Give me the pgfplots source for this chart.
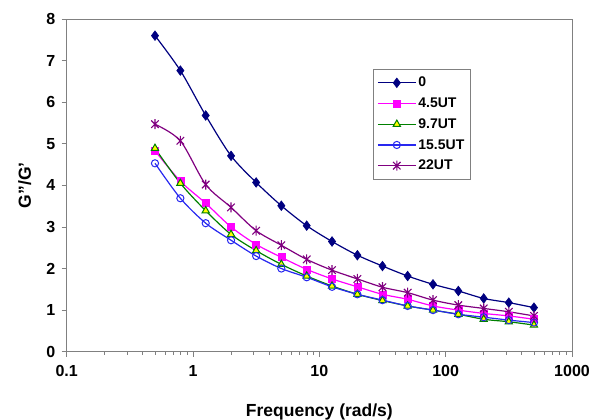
\documentclass[border=0pt]{standalone}
\usepackage{fontspec}
\setmainfont{Liberation Sans}
\usepackage{pgfplots}
\pgfplotsset{compat=1.18}
\definecolor{cnavy}{RGB}{0,0,128}
\definecolor{cmag}{RGB}{255,0,255}
\definecolor{cgreen}{RGB}{0,128,0}
\definecolor{cyel}{RGB}{255,255,0}
\definecolor{cblue}{RGB}{40,40,240}
\definecolor{cpurp}{RGB}{128,0,128}
\definecolor{cframe}{RGB}{128,128,128}
\pgfdeclareplotmark{xstar}{%
 \pgfpathmoveto{\pgfqpoint{-.75\pgfplotmarksize}{-.75\pgfplotmarksize}}%
 \pgfpathlineto{\pgfqpoint{.75\pgfplotmarksize}{.75\pgfplotmarksize}}%
 \pgfpathmoveto{\pgfqpoint{-.75\pgfplotmarksize}{.75\pgfplotmarksize}}%
 \pgfpathlineto{\pgfqpoint{.75\pgfplotmarksize}{-.75\pgfplotmarksize}}%
 \pgfpathmoveto{\pgfqpoint{0pt}{-\pgfplotmarksize}}%
 \pgfpathlineto{\pgfqpoint{0pt}{\pgfplotmarksize}}%
 \pgfusepathqstroke}
\begin{document}
\begin{tikzpicture}
\useasboundingbox (-66.7pt,-68.3pt) rectangle (528.3pt,351.7pt);
\begin{axis}[
  scale only axis,
  width=505.3pt, height=332.7pt,
  xmode=log,
  xmin=0.1, xmax=1000,
  ymin=0, ymax=8,
  xtick={0.1,1,10,100,1000},
  xticklabels={0.1,1,10,100,1000},
  minor xtick={},
  ytick={0,1,2,3,4,5,6,7,8},
  /pgf/number format/assume math mode=true,
  tick pos=left,
  tick align=outside,
  major tick length=5pt,
  tick style={cframe, line width=0.8pt},
  axis line style={cframe, line width=1pt},
  ticklabel style={font=\fontsize{16}{18}\selectfont\bfseries},
  yticklabel style={xshift=-3pt},
  xticklabel style={yshift=-5pt},
  xlabel={Frequency (rad/s)},
  ylabel={G\symbol{"22}/G\symbol{"27}},
  every axis x label/.style={at={(axis description cs:0.5,0)}, anchor=base, yshift=-65pt, font=\fontsize{17.5}{20}\selectfont\bfseries},
  every axis y label/.style={at={(axis description cs:-0.083,0.5)}, rotate=90, anchor=center, font=\fontsize{17.5}{20}\selectfont\bfseries},
  legend style={at={(0.606,0.85)}, anchor=north west, draw=cframe, line width=0.6pt, fill=white,
    font=\fontsize{14}{16}\selectfont\bfseries, row sep=5.5pt, inner xsep=4pt, inner ysep=6pt},
  legend cell align=left,
  legend image code/.code={\draw[line width=1.2pt, mark repeat=2,mark phase=2,#1] plot coordinates {(0pt,0pt) (19pt,0pt) (38pt,0pt)};},
  every axis plot/.append style={line width=1.2pt},
]
\addplot[cnavy, smooth, mark=diamond*, mark size=4.8pt, mark options={solid, fill=cnavy, line width=0.6pt}] coordinates {
(0.5,7.60) (0.794,6.76) (1.26,5.68) (2,4.71) (3.16,4.07) (5,3.51) (7.94,3.03) (12.6,2.65) (20,2.32) (31.6,2.06) (50,1.82) (79.4,1.62) (126,1.46) (200,1.28) (316,1.18) (500,1.06)};
\addlegendentry{0}
\addplot[cmag, smooth, mark=square*, mark size=3.5pt, mark options={solid, fill=cmag, line width=0.6pt}] coordinates {
(0.5,4.83) (0.794,4.10) (1.26,3.57) (2,3.00) (3.16,2.58) (5,2.27) (7.94,1.98) (12.6,1.75) (20,1.56) (31.6,1.38) (50,1.26) (79.4,1.10) (126,1.00) (200,0.92) (316,0.86) (500,0.78)};
\addlegendentry{4.5UT}
\addplot[cgreen, smooth, mark=triangle*, mark size=4.2pt, mark options={solid, fill=cyel, line width=1pt}] coordinates {
(0.5,4.89) (0.794,4.05) (1.26,3.39) (2,2.82) (3.16,2.43) (5,2.10) (7.94,1.82) (12.6,1.58) (20,1.38) (31.6,1.23) (50,1.10) (79.4,1.00) (126,0.90) (200,0.78) (316,0.72) (500,0.64)};
\addlegendentry{9.7UT}
\addplot[cblue, smooth, mark=o, mark size=3.6pt, mark options={solid, fill=white, line width=1pt}] coordinates {
(0.5,4.53) (0.794,3.69) (1.26,3.09) (2,2.68) (3.16,2.30) (5,2.00) (7.94,1.79) (12.6,1.56) (20,1.38) (31.6,1.24) (50,1.10) (79.4,1.00) (126,0.90) (200,0.83) (316,0.76) (500,0.70)};
\addlegendentry{15.5UT}
\addplot[cpurp, smooth, mark=xstar, mark size=5pt, mark options={solid, line width=1.1pt}] coordinates {
(0.5,5.47) (0.794,5.07) (1.26,4.02) (2,3.47) (3.16,2.91) (5,2.56) (7.94,2.22) (12.6,1.96) (20,1.75) (31.6,1.55) (50,1.42) (79.4,1.24) (126,1.12) (200,1.04) (316,0.96) (500,0.86)};
\addlegendentry{22UT}
\end{axis}
\end{tikzpicture}
\end{document}
